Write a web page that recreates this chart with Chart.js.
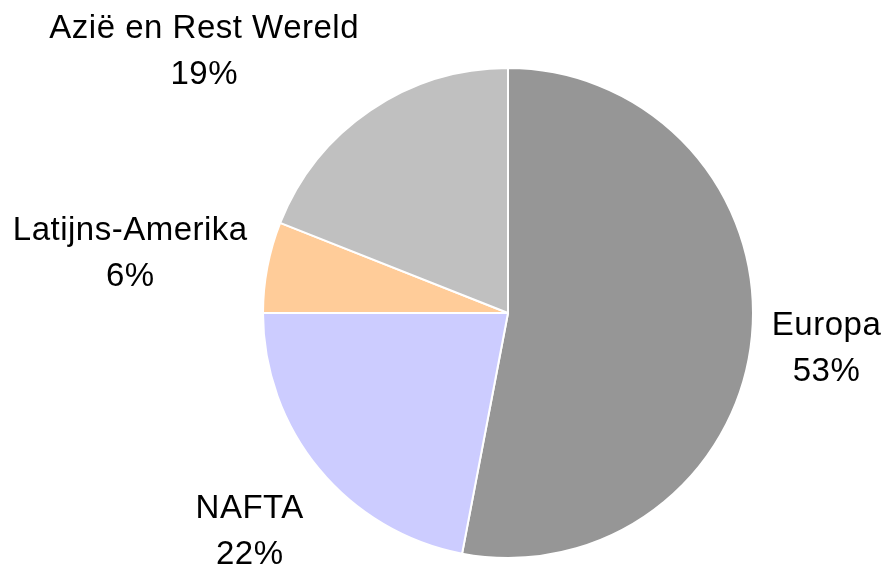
<!DOCTYPE html>
<html>
<head>
<meta charset="utf-8">
<script src="https://cdn.jsdelivr.net/npm/chart.js@4/dist/chart.umd.min.js"></script>
<style>
  html, body { margin: 0; padding: 0; background: #ffffff; }
  #wrap { width: 888px; height: 566px; }
</style>
</head>
<body>
<div id="wrap"><canvas id="regio-pie" width="888" height="566"></canvas></div>
<script>
let categories = ["Europa", "NAFTA", "Latijns-Amerika", "Azië en Rest Wereld"];
let shares = [53, 22, 6, 19];
let sliceColours = ["#969696", "#CCCCFF", "#FFCC99", "#C0C0C0"];

let total = shares.reduce((a, b) => a + b, 0);

// draws "name / pct" outside each slice, anchored just past the rim
const outsideLabels = {
  id: "outsideLabels",
  afterDatasetsDraw(chart) {
    const ctx = chart.ctx;
    const meta = chart.getDatasetMeta(0);
    ctx.save();
    ctx.font = "33px 'Liberation Sans', Arial, sans-serif";
    ctx.letterSpacing = "0.5px";
    ctx.fillStyle = "#000000";
    ctx.textAlign = "center";
    ctx.textBaseline = "middle";
    const lineH = 46;
    meta.data.forEach((arc, i) => {
      const mid = (arc.startAngle + arc.endAngle) / 2;
      const ux = Math.cos(mid);
      const uy = Math.sin(mid);
      const d = arc.outerRadius + 20;
      const ax = arc.x + ux * d;
      const ay = arc.y + uy * d;
      const lines = [categories[i], Math.round(shares[i] / total * 100) + "%"];
      const w = Math.max(...lines.map(t => ctx.measureText(t).width));
      const h = lineH * 2;
      const cx = Math.max(-1, Math.min(1, ux * 2));
      const cy = Math.max(-1, Math.min(1, uy * 1.6));
      const bx = ax + cx * w / 2;
      const by = ay + cy * h / 2 + 4;
      ctx.fillText(lines[0], bx, by - lineH / 2);
      ctx.fillText(lines[1], bx, by + lineH / 2);
    });
    ctx.restore();
  }
};

new Chart("regio-pie", {
  type: "pie",
  data: {
    labels: categories,
    datasets: [{
      data: shares,
      backgroundColor: sliceColours,
      borderColor: "#ffffff",
      borderWidth: 2
    }]
  },
  options: {
    responsive: false,
    animation: false,
    layout: { padding: { left: 262, right: 134, top: 67, bottom: 7 } },
    plugins: {
      legend: { display: false },
      tooltip: { enabled: false }
    }
  },
  plugins: [outsideLabels]
});
</script>
</body>
</html>
